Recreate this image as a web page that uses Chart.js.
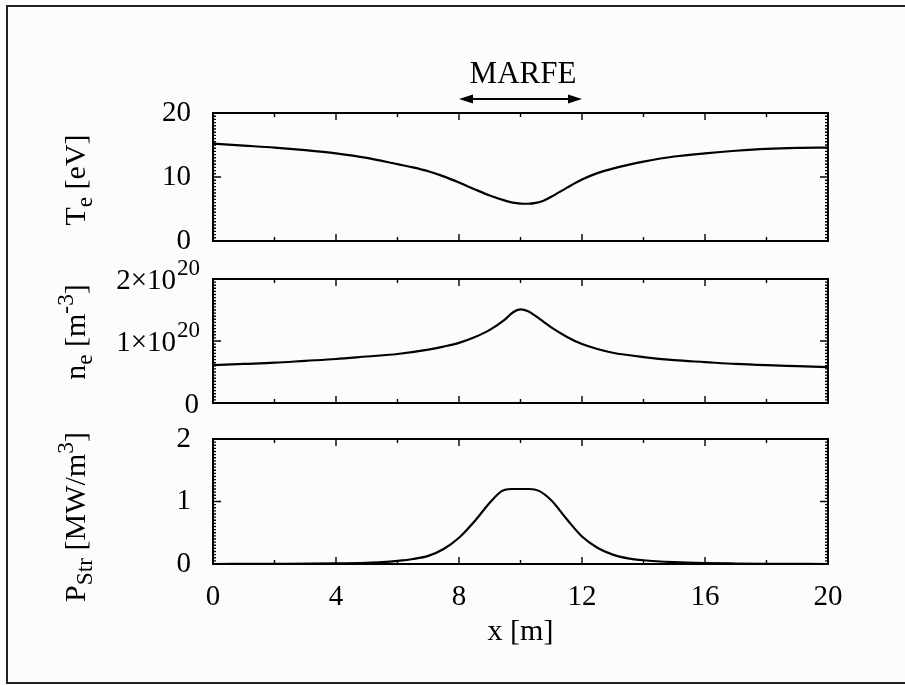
<!DOCTYPE html>
<html>
<head>
<meta charset="utf-8">
<script src="https://cdn.jsdelivr.net/npm/chart.js@4.4.1/dist/chart.umd.min.js"></script>
<style>
html,body{margin:0;padding:0;background:#fcfcfc;}
#wrap{position:relative;width:905px;height:685px;overflow:hidden;background:#fcfcfc;font-family:'Liberation Serif',serif;color:#000;}
#wrap canvas{position:absolute;left:0;top:0;}
.frame{position:absolute;left:6px;top:5px;width:910px;height:675px;border-top:2px solid #222;border-left:2px solid #222;border-bottom:2px solid #222;}
.yt{position:absolute;white-space:nowrap;font-size:30px;line-height:30px;transform:translate(-50%,-50%) rotate(-90deg);}
.yt .sb{font-size:0.78em;position:relative;top:0.3em;}
.yt .sp{font-size:0.78em;position:relative;top:-0.5em;}
.marfe{position:absolute;font-size:31px;line-height:31px;white-space:nowrap;transform:translateX(-50%);}
</style>
</head>
<body>
<div id="wrap">
  <div class="frame"></div>
  <canvas id="c1" width="905" height="685"></canvas>
  <canvas id="c2" width="905" height="685"></canvas>
  <canvas id="c3" width="905" height="685"></canvas>
  <div class="yt" style="left:76px;top:180px;">T<span class="sb">e</span> [eV]</div>
  <div class="yt" style="left:76px;top:332px;">n<span class="sb">e</span> [m<span class="sp">-3</span>]</div>
  <div class="yt" style="left:76px;top:517px;">P<span class="sb">Str</span> [MW/m<span class="sp">3</span>]</div>
  <div class="marfe" style="left:523px;top:57px;">MARFE</div>
</div>
<script>
// ---- data ----
const xTe = [0,1,2,3,4,5,6,6.5,7,7.5,8,8.5,9,9.5,9.75,10,10.25,10.5,10.75,11,11.5,12,12.5,13,13.5,14,15,16,17,18,19,20];
const teValues = [15.2,14.9,14.6,14.2,13.7,13.0,12.0,11.5,10.9,10.1,9.15,8.1,7.1,6.3,6.0,5.85,5.82,5.95,6.3,6.9,8.3,9.6,10.6,11.3,11.9,12.4,13.2,13.7,14.1,14.4,14.55,14.6];

const xNe = [0,1,2,3,4,5,6,7,7.5,8,8.5,9,9.5,9.75,10,10.25,10.5,10.75,11,11.5,12,12.5,13,14,15,16,17,18,19,20];
const neValues = [0.61e20,0.63e20,0.65e20,0.68e20,0.71e20,0.75e20,0.79e20,0.86e20,0.91e20,0.97e20,1.06e20,1.18e20,1.35e20,1.46e20,1.51e20,1.48e20,1.40e20,1.31e20,1.22e20,1.07e20,0.95e20,0.87e20,0.81e20,0.74e20,0.69e20,0.66e20,0.63e20,0.61e20,0.595e20,0.58e20];

const xP = [0,2,4,5,5.5,6,6.5,7,7.5,8,8.5,9,9.4,9.7,10,10.3,10.6,11,11.5,12,12.5,13,13.5,14,15,16,17,18,20];
const pValues = [0,0.003,0.01,0.02,0.03,0.05,0.08,0.13,0.24,0.42,0.68,0.98,1.17,1.2,1.2,1.2,1.17,1.02,0.72,0.44,0.26,0.15,0.09,0.06,0.03,0.015,0.008,0.004,0];

const xTickValues = [0,4,8,12,16,20];
const teTicks = [0,10,20];
const neTickMantissa = ['0','1×10','2×10'];
const neTickExponent = ['','20','20'];
const pTicks = [0,1,2];
const marfeRange = [8,12];

// ---- helpers ----
const FONT = "'Liberation Serif', serif";
const INK = '#000';

const frameTicks = {
  id: 'frameTicks',
  afterDraw(chart) {
    const {ctx, chartArea: a, scales: {x, y}} = chart;
    ctx.save();
    ctx.strokeStyle = INK;
    ctx.lineWidth = 1.4;
    ctx.beginPath();
    const xMinor = (xTickValues[1] - xTickValues[0]) / 2;
    const nx = Math.round((x.max - x.min) / xMinor);
    for (let i = 0; i <= nx; i++) {
      const px = x.getPixelForValue(x.min + i * xMinor);
      const len = i % 2 === 0 ? 7 : 4;
      ctx.moveTo(px, a.bottom); ctx.lineTo(px, a.bottom - len);
      ctx.moveTo(px, a.top); ctx.lineTo(px, a.top + len);
    }
    const tv = y.ticks.map(t => t.value);
    const step = tv[1] - tv[0];
    const yMinor = step / 20;
    const ny = Math.round((y.max - y.min) / yMinor);
    for (let i = 0; i <= ny; i++) {
      const py = y.getPixelForValue(y.min + i * yMinor);
      const len = i % 20 === 0 ? 8 : 3;
      ctx.moveTo(a.left, py); ctx.lineTo(a.left + len, py);
      ctx.moveTo(a.right, py); ctx.lineTo(a.right - len, py);
    }
    ctx.stroke();
    ctx.lineWidth = 2;
    ctx.strokeRect(a.left, a.top, a.right - a.left, a.bottom - a.top);
    ctx.restore();
  }
};

const marfeArrow = {
  id: 'marfeArrow',
  afterDraw(chart) {
    const {ctx, chartArea: a, scales: {x}} = chart;
    const x1 = x.getPixelForValue(marfeRange[0]);
    const x2 = x.getPixelForValue(marfeRange[1]);
    const yA = a.top - 14;
    ctx.save();
    ctx.strokeStyle = INK; ctx.fillStyle = INK; ctx.lineWidth = 2;
    ctx.beginPath(); ctx.moveTo(x1 + 6, yA); ctx.lineTo(x2 - 6, yA); ctx.stroke();
    ctx.beginPath(); ctx.moveTo(x1, yA); ctx.lineTo(x1 + 14, yA - 4.5); ctx.lineTo(x1 + 14, yA + 4.5); ctx.closePath(); ctx.fill();
    ctx.beginPath(); ctx.moveTo(x2, yA); ctx.lineTo(x2 - 14, yA - 4.5); ctx.lineTo(x2 - 14, yA + 4.5); ctx.closePath(); ctx.fill();
    ctx.restore();
  }
};

const neLabels = {
  id: 'neLabels',
  afterDraw(chart) {
    const {ctx, scales: {y}} = chart;
    ctx.save();
    ctx.fillStyle = INK;
    ctx.textBaseline = 'alphabetic';
    ctx.textAlign = 'left';
    y.ticks.forEach((t, i) => {
      const py = y.getPixelForValue(t.value);
      const m = neTickMantissa[i], e = neTickExponent[i];
      ctx.font = '29px ' + FONT;
      const w1 = ctx.measureText(m).width;
      ctx.font = '23px ' + FONT;
      const w2 = e ? ctx.measureText(e).width : 0;
      const xr = y.right - 14;
      const x0 = xr - w1 - w2;
      ctx.font = '29px ' + FONT;
      ctx.fillText(m, x0, py + 10);
      if (e) { ctx.font = '23px ' + FONT; ctx.fillText(e, x0 + w1 + 1, py - 4); }
    });
    ctx.restore();
  }
};

function makeChart(id, xs, ys, yOpts, pad, xOpts, plugins) {
  const data = xs.map((v, i) => ({x: v, y: ys[i]}));
  return new Chart(document.getElementById(id), {
    type: 'line',
    data: { datasets: [{ data, borderColor: INK, borderWidth: 2.2, pointRadius: 0, fill: false, tension: 0.4, cubicInterpolationMode: 'monotone' }] },
    options: {
      responsive: false, animation: false, events: [],
      layout: { padding: pad },
      plugins: { legend: { display: false }, tooltip: { enabled: false } },
      scales: {
        x: Object.assign({ type: 'linear', min: 0, max: 20, grid: { display: false }, border: { display: false } }, xOpts),
        y: Object.assign({
          type: 'linear', grid: { display: false }, border: { display: false },
          afterFit(s) { s.width = 213; }
        }, yOpts)
      }
    },
    plugins: [frameTicks].concat(plugins || [])
  });
}

const yTickFont = { family: FONT, size: 29 };

makeChart('c1', xTe, teValues,
  { min: teTicks[0], max: teTicks[teTicks.length - 1], ticks: { stepSize: teTicks[1] - teTicks[0], padding: 14, color: INK, font: yTickFont } },
  { left: 0, right: 77, top: 113, bottom: 685 - 241 },
  { display: false },
  [marfeArrow]);

makeChart('c2', xNe, neValues,
  { min: 0, max: 2e20, ticks: { stepSize: 1e20, display: false } },
  { left: 0, right: 77, top: 279, bottom: 685 - 403 },
  { display: false },
  [neLabels]);

makeChart('c3', xP, pValues,
  { min: pTicks[0], max: pTicks[pTicks.length - 1], ticks: { stepSize: pTicks[1] - pTicks[0], padding: 14, color: INK, font: yTickFont } },
  { left: 0, right: 77, top: 439, bottom: 35 },
  {
    display: true,
    ticks: { stepSize: xTickValues[1] - xTickValues[0], padding: 8, color: INK, font: yTickFont, maxRotation: 0,
      callback: (v) => xTickValues.includes(v) ? String(v) : '' },
    title: { display: true, text: 'x [m]', color: INK, font: { family: FONT, size: 30 }, padding: { top: 0, bottom: 0 } },
    afterFit(s) { s.height = 86; }
  });
</script>
</body>
</html>
